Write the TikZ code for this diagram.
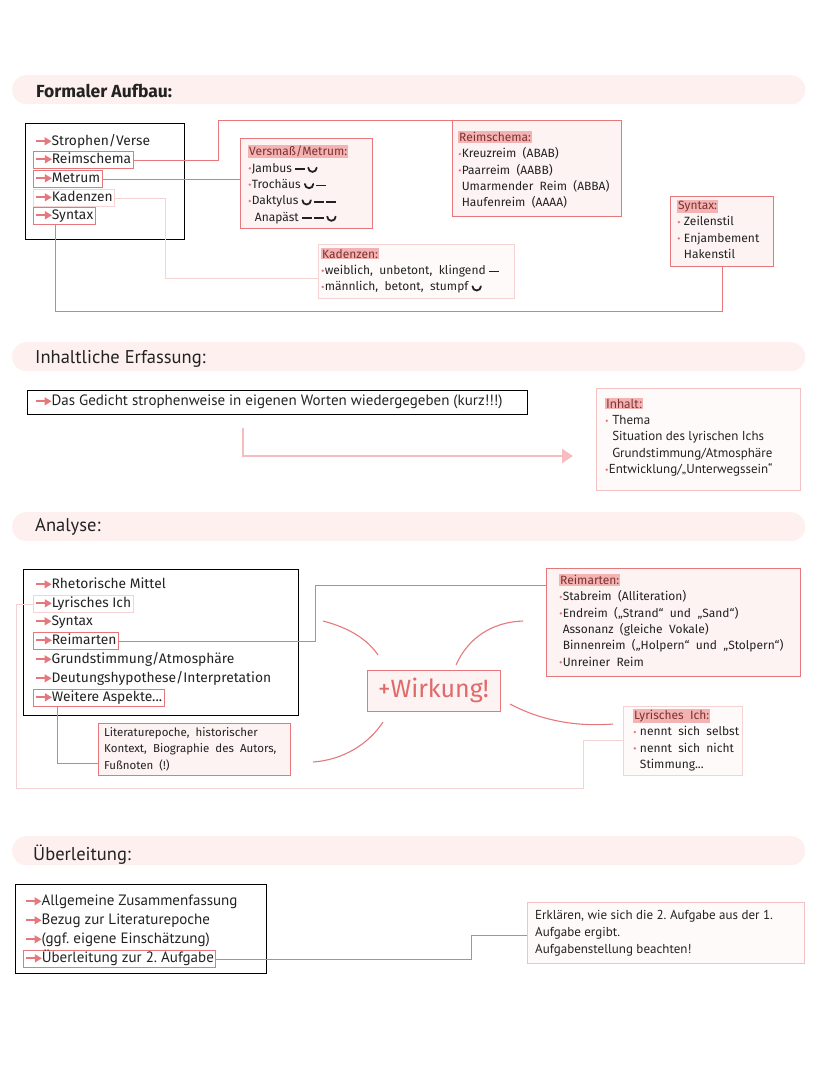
\documentclass[tikz,border=0pt]{standalone}
\usepackage{fontspec}
\setmainfont{Fira Sans}
\newfontfamily\nar{PT Sans}
\usetikzlibrary{arrows.meta}
\definecolor{pk}{HTML}{E6787C}
\definecolor{hl}{HTML}{F4B3B3}
\definecolor{boxfill}{HTML}{FDF3F3}
\definecolor{faint}{HTML}{F6D3D3}
\definecolor{band}{HTML}{FDF0EE}
\definecolor{tt}{HTML}{7E3030}
\definecolor{ink}{HTML}{222222}
\definecolor{wkc}{HTML}{E06A6A}
\definecolor{arrc}{HTML}{F5BDBD}
\newcommand\arr{\tikz[baseline=0pt,x=1pt,y=1pt]{\draw[pk,line width=1.7pt] (0,4.2) -- (10,4.2); \fill[pk] (8.5,0) -- (15.5,4.2) -- (8.5,8.4) -- cycle;}}
\newcommand\bul{\tikz[baseline=0pt,x=1pt,y=1pt]{\path (0,0) -- (3.6,0); \fill[pk] (1.6,3.8) circle[radius=1.35];}}
\newcommand\nobul{\hspace*{3.6pt}}
\newcommand\hlt[1]{{\setlength\fboxsep{1pt}\colorbox{hl}{\color{tt}#1}}}
\newcommand\lng{\rule[0.33ex]{0.85em}{1.7pt}}
\newcommand\brv{\tikz[baseline=0pt,x=1pt,y=1pt]\draw[ink,line width=1.8pt,line cap=round] (0,4.5) arc[start angle=180,end angle=360,radius=4.2];}
\begin{document}
\begin{tikzpicture}[x=1pt,y=-1pt,
  every node/.style={text=ink},
  bandst/.style={fill=band, rounded corners=14pt, anchor=north west, inner sep=0, minimum height=29pt, minimum width=793pt},
  head/.style={anchor=west, inner sep=0, font=\bfseries\fontsize{17.5}{19}\selectfont},
  headn/.style={anchor=west, inner sep=0, font=\nar\fontsize{18.5}{20}\selectfont},
  item/.style={anchor=west, inner xsep=2pt, inner ysep=0pt, minimum height=17pt, text height=10pt, text depth=3pt, font=\fontsize{13.8}{16}\selectfont},
  nitem/.style={item, font=\nar\fontsize{15}{16}\selectfont},
  hit/.style={draw=pk, line width=1pt},
  fait/.style={draw=faint, line width=0.8pt},
  blackbox/.style={draw=black, line width=1.3pt, anchor=north west, inner sep=0},
  pbox/.style={draw=pk, fill=boxfill, line width=1pt, anchor=north west, inner sep=0},
  fbox/.style={draw=faint, fill=boxfill!40, line width=0.9pt, anchor=north west, inner sep=0},
  txt/.style={anchor=north west, inner sep=0, align=left, font=\fontsize{12}{16.3}\selectfont},
  ntxt/.style={anchor=north west, inner sep=0, align=left, font=\nar\fontsize{13}{16.3}\selectfont},
  con/.style={draw=pk, line width=1pt},
  fcon/.style={draw=faint, line width=1pt},
  bigarrow/.style={draw=arrc, line width=2.6pt, -{Triangle[length=11pt,width=14pt]}},
  arc/.style={draw=pk, line width=1.1pt}
]
\useasboundingbox (0,0) rectangle (828,1069);

% ---------- bands and headers
\node[bandst] (b1) at (12,75) {};
\node[bandst] (b2) at (12,342) {};
\node[bandst] (b3) at (12,512) {};
\node[bandst] (b4) at (12,836) {};
\node[head] (h1) at (36,91) {Formaler Aufbau:};
\node[headn] (h2) at (35,359) {Inhaltliche Erfassung:};
\node[headn] (h3) at (35,527) {Analyse:};
\node[headn] (h4) at (33,855) {Überleitung:};

% ---------- Section 1
\node[blackbox, minimum width=159pt, minimum height=116pt] (bb1) at (25,123) {};
\node[item] (i1) at (33,142) {\arr Strophen/Verse};
\node[item,hit] (i2) at (33,160) {\arr Reimschema};
\node[item,hit] (i3) at (33,179) {\arr Metrum};
\node[item,fait] (i4) at (33,198) {\arr Kadenzen};
\node[item,hit] (i5) at (33,216) {\arr Syntax};

\node[pbox, minimum width=132pt, minimum height=90pt] (vm) at (240,138) {};
\node[txt] (vmt) at (248,145) {\hlt{Versmaß/Metrum:}\\
\bul Jambus \lng\,\brv\\
\bul Trochäus \brv\,\lng\\
\bul Daktylus \brv\,\lng\,\lng\\
\nobul\ Anapäst \lng\,\lng\,\brv};

\node[pbox, minimum width=169pt, minimum height=96pt] (rs) at (452,120) {};
\node[txt] (rst) at (458,131) {\hlt{Reimschema:}\\
\bul Kreuzreim\ \ (ABAB)\\
\bul Paarreim\ \ (AABB)\\
\nobul Umarmender\ \ Reim\ \ (ABBA)\\
\nobul Haufenreim\ \ (AAAA)};

\node[pbox, minimum width=103pt, minimum height=70pt] (sx) at (670,196) {};
\node[txt] (sxt) at (677,200) {\hlt{Syntax:}\\
\bul\ Zeilenstil\\
\bul\ Enjambement\\
\nobul\ Hakenstil};

\node[fbox, minimum width=196pt, minimum height=54pt] (kd) at (318,244) {};
\node[txt] (kdt) at (321,248) {\hlt{Kadenzen:}\\
\bul weiblich,\ \ unbetont,\ \ klingend \lng\\
\bul männlich,\ \ betont,\ \ stumpf \brv};

\coordinate (c1) at (218,120);
\draw[con] (i2.east) -| (c1) -- (rs.north west);
\draw[con] (i3.east) -- (i3.east -| vm.west);
\coordinate (c2) at (165,278);
\draw[fcon] (i4.east) -| (c2) -- (c2 -| kd.west);
\coordinate (c3) at (55,311);
\draw[con] (i5.south -| c3) -- (c3) -| (sx.south);

% ---------- Section 2
\node[blackbox, minimum width=500pt, minimum height=24pt] (bb2) at (27,390) {};
\node[nitem] (d1) at (33,402) {\arr Das\ Gedicht\ strophenweise\ in\ eigenen\ Worten\ wiedergegeben\ (kurz!!!)};
\coordinate (a1) at (243,428);
\coordinate (a2) at (573,456);
\draw[bigarrow] (a1) |- (a2);

\node[fbox, draw=faint!80!pk, minimum width=204pt, minimum height=102pt] (ih) at (596,388) {};
\node[ntxt] (iht) at (605,398) {\hlt{Inhalt:}\\
\bul\ Thema\\
\nobul\ Situation\ des\ lyrischen\ Ichs\\
\nobul\ Grundstimmung/Atmosphäre\\
\bul Entwicklung/„Unterwegssein“};

% ---------- Section 3
\node[blackbox, minimum width=275pt, minimum height=146pt] (bb3) at (23,569) {};
\node[item] (r1) at (33,585) {\arr Rhetorische\ Mittel};
\node[item,fait] (r2) at (33,604) {\arr Lyrisches\ Ich};
\node[item] (r3) at (33,622) {\arr Syntax};
\node[item,hit] (r4) at (33,641) {\arr Reimarten};
\node[item] (r5) at (33,660) {\arr Grundstimmung/Atmosphäre};
\node[item] (r6) at (33,679) {\arr Deutungshypothese/Interpretation};
\node[item,hit] (r7) at (33,698) {\arr Weitere\ Aspekte...};

\node[pbox, minimum width=254pt, minimum height=108pt] (ra) at (546,568) {};
\node[txt] (rat) at (559,574) {\hlt{Reimarten:}\\
\bul Stabreim\ \ (Alliteration)\\
\bul Endreim\ \ („Strand“\ \ und\ \ „Sand“)\\
\nobul Assonanz\ \ (gleiche\ \ Vokale)\\
\nobul Binnenreim\ \ („Holpern“\ \ und\ \ „Stolpern“)\\
\bul Unreiner\ \ Reim};

\node[pbox, minimum width=192pt, minimum height=52pt] (lit) at (98,723) {};
\node[txt, font=\fontsize{11.5}{16.5}\selectfont] (litt) at (104,727) {Literaturepoche,\ \ historischer\\
Kontext,\ \ Biographie\ \ des\ \ Autors,\\
Fußnoten\ \ (!)};

\node[fbox, minimum width=119pt, minimum height=69pt] (ly) at (623,706) {};
\node[txt] (lyt) at (633,709) {\hlt{Lyrisches\ \ Ich:}\\
\bul\ nennt\ \ sich\ \ selbst\\
\bul\ nennt\ \ sich\ \ nicht\\
\nobul\ Stimmung...};

\node[draw=pk, fill=boxfill, line width=1pt, minimum width=133pt, minimum height=41pt, inner sep=0, text=wkc, font=\fontsize{25}{27}\selectfont] (wk) at (433.5,690.5) {+Wirkung!};

\draw[arc] (323,621) .. controls (350,628) and (368,640) .. (378,655);
\draw[arc] (383,722) .. controls (368,745) and (342,760) .. (313,762);
\draw[arc] (456,665) .. controls (468,638) and (492,622) .. (523,621);
\draw[arc] (510,704) .. controls (540,720) and (575,727) .. (613,724);

\coordinate (c4) at (315,585);
\draw[con] (r4.east) -| (c4) -- (c4 -| ra.west);
\coordinate (c5) at (57,763);
\draw[con] (r7.south -| c5) -- (c5) -- (c5 -| lit.west);
\coordinate (c6) at (16,788);
\coordinate (c7) at (583,740);
\draw[fcon] (r2.west) -| (c6) -| (c7) -- (c7 -| ly.west);

% ---------- Section 4
\node[blackbox, minimum width=251pt, minimum height=89pt] (bb4) at (15,884) {};
\node[nitem] (u1) at (23,902) {\arr Allgemeine\ Zusammenfassung};
\node[nitem] (u2) at (23,921) {\arr Bezug\ zur\ Literaturepoche};
\node[nitem] (u3) at (23,940) {\arr(ggf.\ eigene\ Einschätzung)};
\node[nitem,hit] (u4) at (23,959) {\arr Überleitung\ zur\ 2.\ Aufgabe};

\node[fbox, draw=faint!80!pk, minimum width=277pt, minimum height=61pt] (ek) at (527,902) {};
\node[ntxt, font=\nar\fontsize{13}{17}\selectfont] (ekt) at (535,910) {Erklären,\ wie\ sich\ die\ 2.\ Aufgabe\ aus\ der\ 1.\\
Aufgabe\ ergibt.\\
Aufgabenstellung\ beachten!};

\coordinate (c8) at (471,935);
\draw[con] (u4.east) -| (c8) -- (c8 -| ek.west);
\end{tikzpicture}
\end{document}
